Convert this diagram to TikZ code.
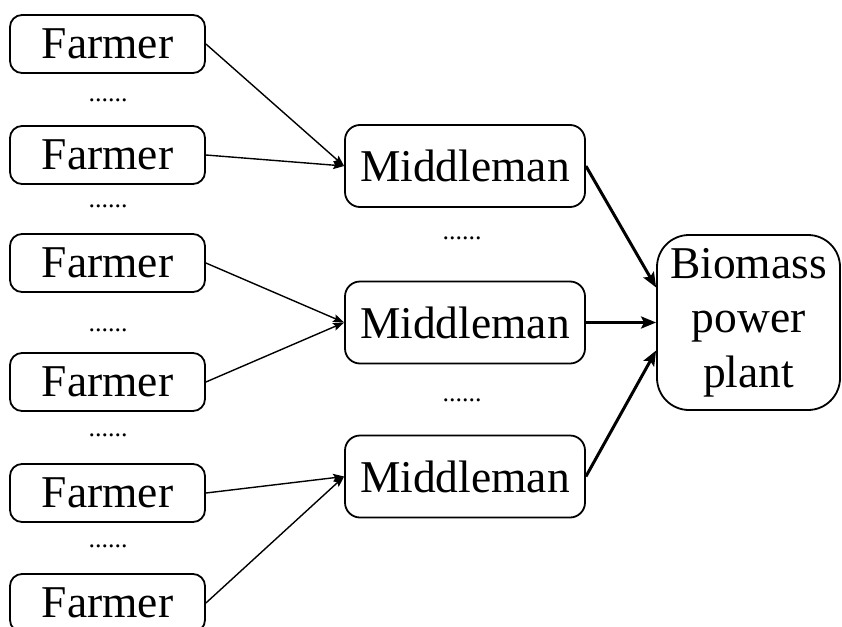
\documentclass[tikz,border=0pt]{standalone}
\usepackage{fontspec}
\setmainfont{Liberation Serif}
\usetikzlibrary{arrows.meta,calc}
\begin{document}
\begin{tikzpicture}[x=1pt,y=-1pt,
  box/.style={draw,line width=1.8pt,rounded corners=12pt,inner sep=0pt,
    font=\fontsize{45.5}{54.5}\selectfont},
  farmer/.style={box,minimum width=195pt,minimum height=58pt},
  middle/.style={box,minimum width=240pt,minimum height=82pt,rounded corners=15pt},
  plant/.style={box,minimum width=183pt,minimum height=175pt,rounded corners=32pt},
  dots/.style={inner sep=0pt,font=\fontsize{26}{30}\selectfont},
  thin/.style={line width=1.4pt,-{Stealth[length=11pt,width=8pt,inset=2pt]}},
  thick/.style={line width=3pt,-{Stealth[length=15pt,width=12pt,inset=3pt]}}]
\useasboundingbox (0,0) rectangle (842,626);
\node[farmer] (f1) at (107.5,44) {Farmer};
\node[farmer] (f2) at (107.5,155) {Farmer};
\node[farmer] (f3) at (107.5,263) {Farmer};
\node[farmer] (f4) at (107.5,382) {Farmer};
\node[farmer] (f5) at (107.5,493) {Farmer};
\node[farmer] (f6) at (107.5,603) {Farmer};
\node[dots] (d1) at (108,100) {......};
\node[dots] (d2) at (108,206) {......};
\node[dots] (d3) at (108,330) {......};
\node[dots] (d4) at (108,435) {......};
\node[dots] (d5) at (108,546) {......};
\node[middle] (m1) at (465,166) {Middleman};
\node[middle] (m2) at (465,322.5) {Middleman};
\node[middle] (m3) at (465,476.5) {Middleman};
\node[dots] (d6) at (462,238) {......};
\node[dots] (d7) at (462,400) {......};
\node[plant] (b) at (748.5,322.5) {\raisebox{-5pt}{\parbox{180pt}{\centering Biomass\\power\\plant}}};
\coordinate (b1) at ($(b.west)+(0,-35)$);
\coordinate (b3) at ($(b.west)+(0,28)$);
\draw[thin] (f1.east) -- (m1.west);
\draw[thin] (f2.east) -- (m1.west);
\draw[thin] (f3.east) -- (m2.west);
\draw[thin] (f4.east) -- (m2.west);
\draw[thin] (f5.east) -- (m3.west);
\draw[thin] (f6.east) -- (m3.west);
\draw[thick] (m1.east) -- (b1);
\draw[thick] (m2.east) -- (b.west);
\draw[thick] (m3.east) -- (b3);
\end{tikzpicture}
\end{document}
